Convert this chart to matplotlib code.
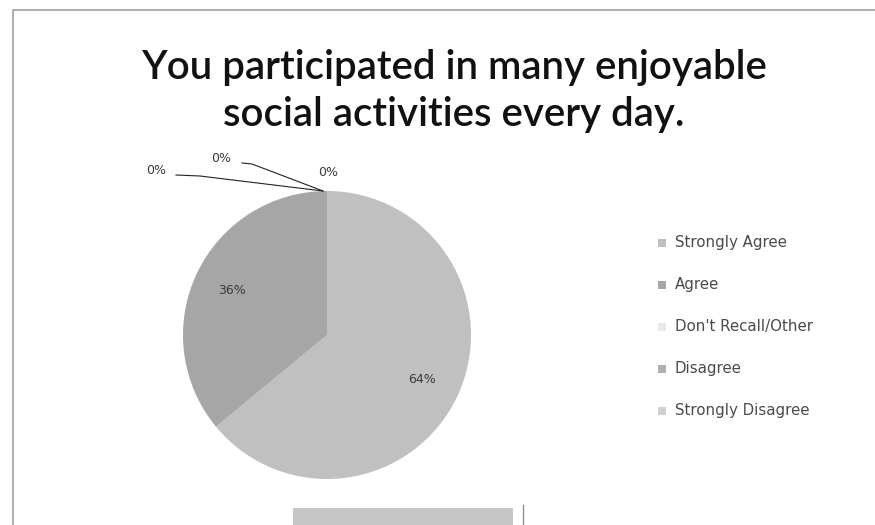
import matplotlib
matplotlib.use("Agg")
import matplotlib.pyplot as plt
import numpy as np

# survey answers, in the order the chart lists them
categories = ["Strongly Agree", "Agree", "Don't Recall/Other", "Disagree", "Strongly Disagree"]
shares = [64, 36, 0, 0, 0]
colors = ["#c0c0c0", "#a6a6a6", "#e8e8e8", "#b0b0b0", "#d0d0d0"]
title = "You participated in many enjoyable\nsocial activities every day."

W, H = 875, 525
fig = plt.figure(figsize=(W / 100, H / 100), dpi=100)
ax = fig.add_axes([0, 0, 1, 1])

cx, cy, r = 327, 190, 144
wedges, _ = ax.pie(shares, colors=colors, startangle=90, counterclock=False,
                   center=(cx, cy), radius=r, frame=True,
                   wedgeprops=dict(linewidth=0))
ax.set_xlim(0, W)
ax.set_ylim(0, H)
ax.set_aspect("equal")
ax.axis("off")

label_font = dict(family="DejaVu Sans", fontsize=9, color="#3a3a3a")

# labels inside the two visible slices
for w, v in zip(wedges[:2], shares[:2]):
    mid = np.deg2rad((w.theta1 + w.theta2) / 2)
    ax.text(cx + 0.73 * r * np.cos(mid), cy + 0.73 * r * np.sin(mid),
            f"{v}%", ha="center", va="center", **label_font)

# the empty slices sit at the top of the pie, labelled with leader lines
top = (cx - 4, cy + r)
zero_labels = [((156, 355), [(176, 350), (200, 349)]),
               ((221, 367), [(242, 362), (252, 361)]),
               ((328, 352), None)]
for v, ((tx, ty), leader) in zip(shares[2:], zero_labels):
    ax.text(tx, ty, f"{v}%", ha="center", va="center", **label_font)
    if leader:
        xs = [p[0] for p in leader] + [top[0]]
        ys = [p[1] for p in leader] + [top[1]]
        ax.plot(xs, ys, color="#222222", lw=0.8)

ax.text(454, 434, title, ha="center", va="center", family="Lato",
        fontweight="semibold", fontsize=29, linespacing=1.33, color="#111111")

# legend
for i, (name, c) in enumerate(zip(categories, colors)):
    y = H - 243 - i * 42
    ax.add_patch(plt.Rectangle((658, y - 4), 8, 8, color=c, lw=0))
    ax.text(675, y, name, ha="left", va="center", family="DejaVu Sans",
            fontsize=10.8, color="#4a4a4a")

# chart frame and the edge of the next chart below
ax.plot([13, 13, W], [0, H - 10, H - 10], color="#a0a0a0", lw=1.2)
ax.add_patch(plt.Rectangle((293, 0), 220, 17, color="#c6c6c6", lw=0))
ax.plot([523, 523], [0, 20], color="#909090", lw=1)

fig.savefig("out.png", dpi=100)
